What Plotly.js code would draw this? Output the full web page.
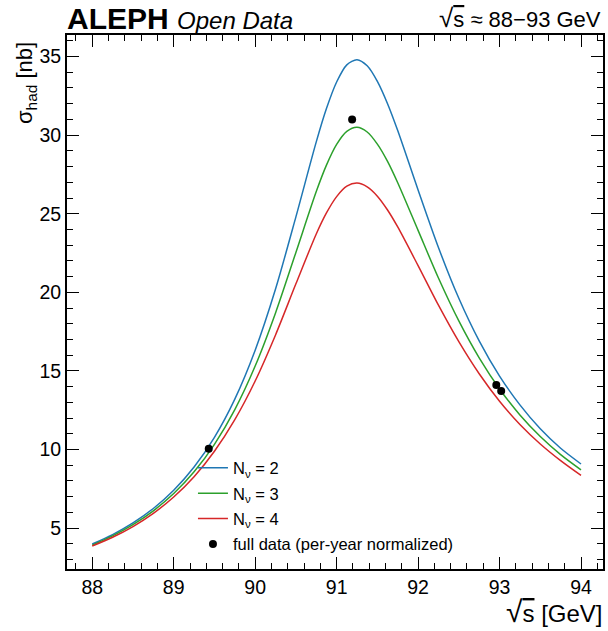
<!DOCTYPE html>
<html>
<head>
<meta charset="utf-8">
<script src="https://cdn.plot.ly/plotly-3.0.1.min.js"></script>
<style>body{margin:0;padding:0;background:#fff}#chart{width:608px;height:631px}</style>
</head>
<body>
<div id="chart"></div>
<script>
const energy = [88.0, 88.25, 88.5, 88.75, 89.0, 89.25, 89.5, 89.75, 90.0, 90.25, 90.5, 90.75, 90.875, 91.0, 91.125, 91.25, 91.375, 91.5, 91.625, 91.75, 92.0, 92.25, 92.5, 92.75, 93.0, 93.25, 93.5, 93.75, 94.0];
const sigmaN2 = [3.99, 4.59, 5.33, 6.25, 7.41, 8.89, 10.78, 13.21, 16.32, 20.21, 24.80, 29.57, 31.69, 33.38, 34.47, 34.80, 34.41, 33.42, 32.00, 30.29, 26.51, 22.85, 19.62, 16.91, 14.67, 12.84, 11.32, 10.08, 9.08];
const sigmaN3 = [3.92, 4.51, 5.22, 6.10, 7.20, 8.58, 10.33, 12.54, 15.31, 18.69, 22.54, 26.41, 28.09, 29.41, 30.24, 30.50, 30.20, 29.43, 28.33, 26.97, 23.94, 20.91, 18.18, 15.83, 13.85, 12.20, 10.83, 9.68, 8.71];
const sigmaN4 = [3.86, 4.42, 5.10, 5.94, 6.98, 8.27, 9.89, 11.90, 14.36, 17.29, 20.54, 23.71, 25.05, 26.09, 26.75, 26.95, 26.71, 26.12, 25.24, 24.16, 21.70, 19.18, 16.86, 14.82, 13.07, 11.59, 10.35, 9.29, 8.35];
const dataE = [89.43, 91.19, 92.96, 93.02];
const dataSigma = [10.05, 31.0, 14.11, 13.73];
const dataErr = [0.12, 0.1, 0.12, 0.12];
const names = ["N<sub>ν</sub> = 2", "N<sub>ν</sub> = 3", "N<sub>ν</sub> = 4", "full data (per-year normalized)"];
const colors = ["#1f77b4", "#2ca02c", "#d62728"];

const font = "Liberation Sans, Arial, sans-serif";
const series = [sigmaN2, sigmaN3, sigmaN4];
const traces = series.map((s, i) => ({
  x: energy, y: s, type: "scatter", mode: "lines",
  line: {color: colors[i], width: 1.5, shape: "spline", smoothing: 0.8},
  name: names[i], legendgroup: "g" + i
}));
traces.push({
  x: dataE, y: dataSigma, type: "scatter", mode: "markers",
  marker: {color: "black", size: 8},
  error_y: {type: "data", array: dataErr, visible: true, color: "black", thickness: 1.5, width: 2},
  name: names[3], legendgroup: "g3"
});

const axisCommon = {
  showgrid: false, zeroline: false, showline: true, linecolor: "black", linewidth: 2,
  mirror: "allticks", ticks: "inside", ticklen: 12, tickwidth: 1, tickcolor: "black",
  tickfont: {family: font, size: 19.5, color: "black"},
  minor: {ticks: "inside", ticklen: 6, tickwidth: 1, tickcolor: "black", showgrid: false}
};

const sq = "<span style='font-size:1.2em'>√</span><span style='text-decoration:overline'>s</span>";

const layout = {
  width: 608, height: 631,
  margin: {l: 67, r: 5, t: 35, b: 62},
  paper_bgcolor: "white", plot_bgcolor: "white",
  showlegend: true,
  legend: {x: 0.235, y: 0.222, xanchor: "left", yanchor: "top", bgcolor: "rgba(0,0,0,0)",
           font: {family: font, size: 16.5, color: "black"}, tracegroupgap: 1, itemwidth: 30},
  xaxis: Object.assign({}, axisCommon, {range: [87.69, 94.27], dtick: 1, tick0: 88,
           minor: Object.assign({}, axisCommon.minor, {dtick: 0.2})}),
  yaxis: Object.assign({}, axisCommon, {range: [2.4, 36.37], dtick: 5, tick0: 0,
           minor: Object.assign({}, axisCommon.minor, {dtick: 1})}),
  annotations: [
    {xref: "paper", yref: "paper", x: 0, y: 1, xanchor: "left", yanchor: "bottom", yshift: -2, xshift: -2, showarrow: false,
     text: "<b>ALEPH</b> <i><span style='font-size:24px'>Open Data</span></i>",
     font: {family: font, size: 30, color: "black"}},
    {xref: "paper", yref: "paper", x: 1, y: 1, xanchor: "right", yanchor: "bottom", yshift: 0, xshift: 0, showarrow: false,
     text: "<span style='font-size:26px'>√</span><span style='text-decoration:overline'>s</span> ≈ 88−93 GeV",
     font: {family: font, size: 22, color: "black"}},
    {xref: "paper", yref: "paper", x: 1, y: -0.079, xanchor: "right", yanchor: "middle", xshift: 2, showarrow: false,
     text: "<span style='font-size:30px'>√</span><span style='text-decoration:overline'>s</span> [GeV]",
     font: {family: font, size: 24, color: "black"}},
    {xref: "paper", yref: "paper", x: -0.0765, y: 1, xanchor: "center", yanchor: "top", yshift: -5, showarrow: false, textangle: -90,
     text: "σ<sub>had</sub> [nb]",
     font: {family: font, size: 22, color: "black"}}
  ]
};

Plotly.newPlot("chart", traces, layout, {displayModeBar: false, staticPlot: true});
</script>
</body>
</html>
